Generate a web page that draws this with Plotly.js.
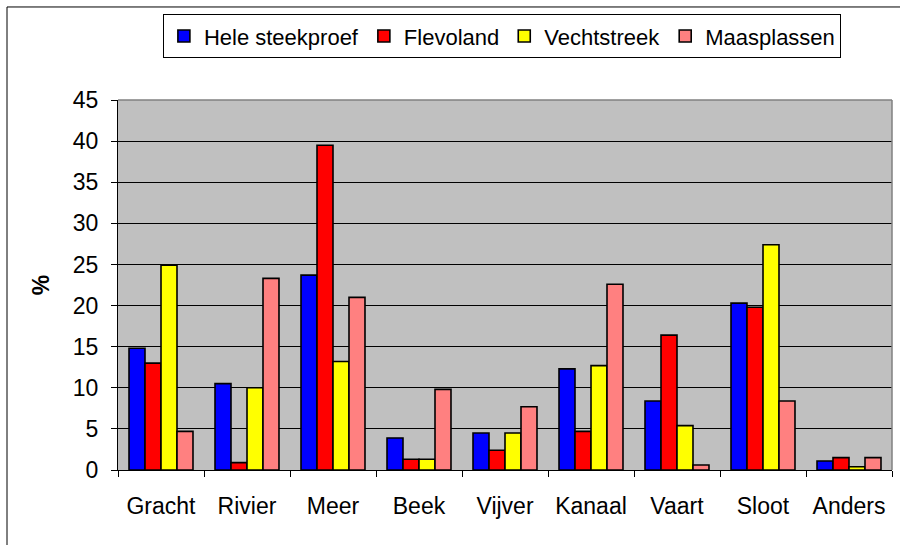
<!DOCTYPE html>
<html>
<head>
<meta charset="utf-8">
<script src="https://cdn.plot.ly/plotly-3.0.1.min.js"></script>
<style>html,body{margin:0;padding:0;background:#fff;}#chart{width:900px;height:545px;}</style>
</head>
<body>
<div id="chart"></div>
<script>
var categories = ['Gracht','Rivier','Meer','Beek','Vijver','Kanaal','Vaart','Sloot','Anders'];
var seriesNames = ['Hele steekproef','Flevoland','Vechtstreek','Maasplassen'];
var heleSteekproef = [14.8, 10.5, 23.7, 3.9, 4.5, 12.3, 8.4, 20.3, 1.1];
var flevoland      = [13.0, 0.9, 39.5, 1.3, 2.4, 4.7, 16.4, 19.8, 1.5];
var vechtstreek    = [24.9, 10.0, 13.2, 1.3, 4.5, 12.7, 5.4, 27.4, 0.4];
var maasplassen    = [4.7, 23.3, 21.0, 9.8, 7.7, 22.6, 0.6, 8.4, 1.5];
var yTicks = [0,5,10,15,20,25,30,35,40,45];

var colors = ['#0000ff','#ff0000','#ffff00','#ff8080'];
var values = [heleSteekproef, flevoland, vechtstreek, maasplassen];

var traces = values.map(function(v, i){
  return {
    type: 'bar', x: categories, y: v, name: seriesNames[i],
    marker: {color: colors[i], line: {color: '#000', width: 1.6}},
    hoverinfo: 'x+y+name'
  };
});

var font = {family: 'Liberation Sans, Arial, sans-serif', size: 23, color: '#000'};
var legendFont = {family: 'Liberation Sans, Arial, sans-serif', size: 22, color: '#000'};

var layout = {
  width: 900, height: 545,
  margin: {l: 118, r: 8, t: 100, b: 75},
  paper_bgcolor: '#ffffff',
  plot_bgcolor: '#c0c0c0',
  font: font,
  barmode: 'group',
  bargap: 0.256,
  bargroupgap: 0,
  showlegend: true,
  legend: {
    orientation: 'h', x: 0.058, y: 1.232, xanchor: 'left', yanchor: 'top',
    bgcolor: '#fff', bordercolor: '#000', borderwidth: 1,
    font: legendFont, traceorder: 'normal', itemclick: false
  },
  xaxis: {
    type: 'category', tickson: 'boundaries', ticks: 'outside', ticklen: 6,
    tickcolor: '#000', tickwidth: 1, showline: true, linecolor: '#000', linewidth: 1,
    showgrid: false, tickfont: font, ticklabelstandoff: 15, automargin: false
  },
  yaxis: {
    range: [0, 45], tickvals: yTicks, ticks: 'outside', ticklen: 6,
    tickcolor: '#000', tickwidth: 1, showline: true, linecolor: '#000', linewidth: 1,
    showgrid: true, gridcolor: '#000', gridwidth: 1, zeroline: false,
    tickfont: font, ticklabelstandoff: 8, automargin: false,
    title: {text: '<b>%</b>', font: font, standoff: 16}
  },
  shapes: [
    {type: 'line', xref: 'paper', yref: 'paper', x0: 0, x1: 1, y0: 1, y1: 1,
     line: {color: '#808080', width: 1.5}},
    {type: 'line', xref: 'paper', yref: 'paper', x0: 1, x1: 1, y0: 0, y1: 1,
     line: {color: '#808080', width: 1.5}},
    {type: 'rect', xref: 'paper', yref: 'paper', x0: -0.1434, x1: 1.05, y0: -0.25, y1: 1.2514,
     line: {color: '#000', width: 1}, fillcolor: 'rgba(0,0,0,0)'}
  ]
};

Plotly.newPlot('chart', traces, layout, {displayModeBar: false, staticPlot: true});
</script>
</body>
</html>
